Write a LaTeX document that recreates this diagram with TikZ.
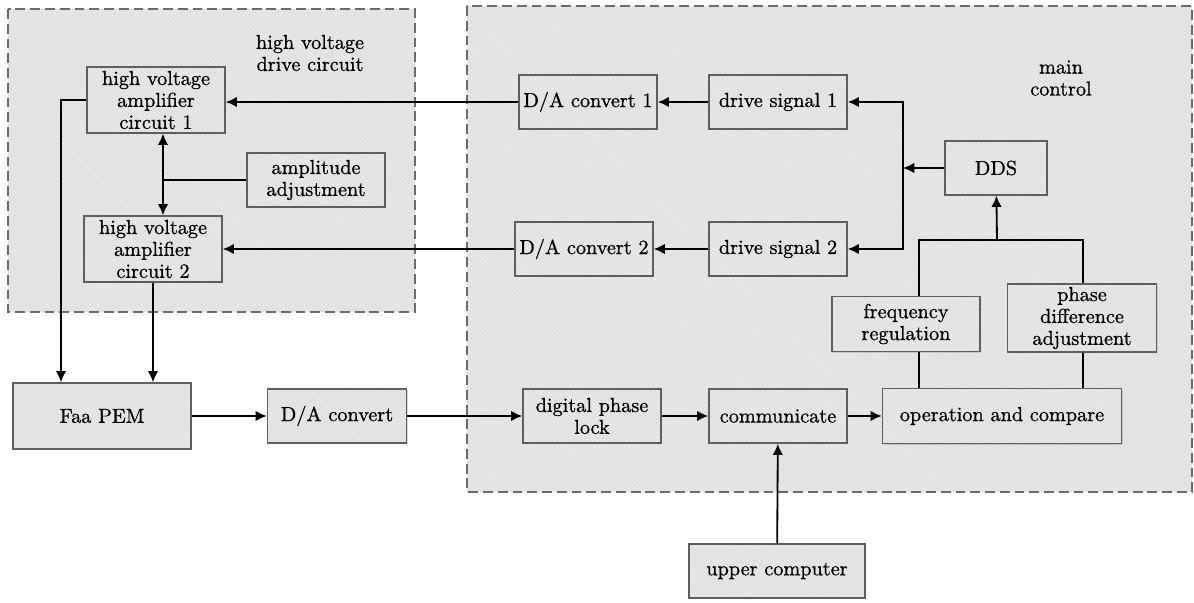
\documentclass[tikz,border=0pt]{standalone}
\usepackage{fontspec}
\setmainfont{lmroman10-regular}[Extension=.otf, FakeBold=0.8]
\usetikzlibrary{arrows.meta,patterns,shadows}

\definecolor{panel}{HTML}{E0E0E0}
\definecolor{stripe}{HTML}{F0F0F0}
\definecolor{edge}{HTML}{5E5E5E}
\definecolor{dashedge}{HTML}{6B6B6B}

\tikzset{
  hatched/.style={preaction={fill=panel}, preaction={pattern=north west lines, pattern color=stripe}},
  blk/.style={drop shadow={shadow xshift=1pt, shadow yshift=-1pt, opacity=0.3},
    hatched, draw=edge, line width=1pt, align=center, inner sep=0.5pt,
    minimum width=3.45cm, minimum height=1.35cm},
  region/.style={hatched, draw=dashedge, line width=1pt, dash pattern=on 7pt off 3.5pt},
  lbl/.style={align=center},
  arr/.style={line width=1.3pt, -{Latex[length=8pt,width=7.5pt]}},
  arrs/.style={line width=1.3pt, {Latex[length=8pt,width=7.5pt]}-{Latex[length=8pt,width=7.5pt]}},
  link/.style={line width=1.3pt},
}

\begin{document}
\begin{tikzpicture}[x=0.025cm, y=-0.025cm, font=\fontsize{14.4}{15.6}\selectfont]
    \useasboundingbox (0,0) rectangle (1194,603);

    % the two dashed areas
    \path[region] (8,9) rectangle (415,312);
    \path[region] (467,6) rectangle (1192,492);
    \node[lbl] (hvdrive) at (310,53) {high voltage\\drive circuit};
    \node[lbl] (mainctl) at (1061,78) {main\\control};

    % high voltage side
    \node[blk, minimum height=1.65cm] (hva1) at (156,100) {high voltage\\amplifier\\circuit 1};
    \node[blk] (ampadj) at (316,180) {amplitude\\adjustment};
    \node[blk, minimum height=1.65cm] (hva2) at (153,249) {high voltage\\amplifier\\circuit 2};

    % main control
    \node[blk] (da1) at (588,102) {D/A convert 1};
    \node[blk] (ds1) at (778,102) {drive signal 1};
    \node[blk] (da2) at (584,249) {D/A convert 2};
    \node[blk] (ds2) at (778,249) {drive signal 2};
    \node[blk, minimum width=2.55cm] (dds) at (996,168) {DDS};
    \node[blk, minimum width=3.7cm, minimum height=1.375cm] (freq) at (906,324) {frequency\\regulation};
    \node[blk, minimum width=3.725cm, minimum height=1.7cm] (phase) at (1082,318) {phase\\difference\\adjustment};
    \node[blk, minimum width=5.975cm, minimum height=1.375cm] (opcmp) at (1002,416) {operation and compare};
    \node[blk] (dpl) at (592,416) {digital phase\\lock};
    \node[blk] (comm) at (778,416) {communicate};

    % outside
    \node[blk, minimum width=4.4cm] (upper) at (777,571) {upper computer};
    \node[blk, minimum width=4.45cm, minimum height=1.65cm] (pem) at (102,416) {Faa PEM};
    \node[blk, minimum width=3.475cm] (dac) at (337,416) {D/A convert};

    \coordinate (bus) at (903,168);
    \coordinate (join) at (997,240);
    \coordinate (fr) at (919,240);
    \coordinate (pd) at (1083,240);
    \coordinate (amj) at (163,180);
    \coordinate (down1) at (61,0);

    \draw[arr] (ds1) -- (da1);
    \draw[arr] (ds2) -- (da2);
    \draw[arr] (da1.west) -- (da1.west -| hva1.east);
    \draw[arr] (da2.west) -- (da2.west -| hva2.east);
    \draw[arr] (dds) -- (bus);
    \draw[arr] (bus) |- (ds1);
    \draw[arr] (bus) |- (ds2);
    \draw[arr] (join) -- (dds);
    \draw[link] (freq.north -| fr) -- (fr) -- (pd) -- (phase.north -| pd);
    \draw[link] (opcmp.north -| fr) -- (freq.south -| fr);
    \draw[link] (opcmp.north -| pd) -- (phase.south -| pd);
    \draw[arrs] (hva1.south -| amj) -- (hva2.north -| amj);
    \draw[link] (ampadj) -- (amj);
    \draw[arr] (hva1.west) -| (pem.north -| down1);
    \draw[arr] (hva2.south) -- (pem.north -| hva2.south);
    \draw[arr] (pem) -- (dac);
    \draw[arr] (dac) -- (dpl);
    \draw[arr] (dpl) -- (comm);
    \draw[arr] (comm) -- (opcmp);
    \draw[arr] (upper) -- (comm);
\end{tikzpicture}
\end{document}
